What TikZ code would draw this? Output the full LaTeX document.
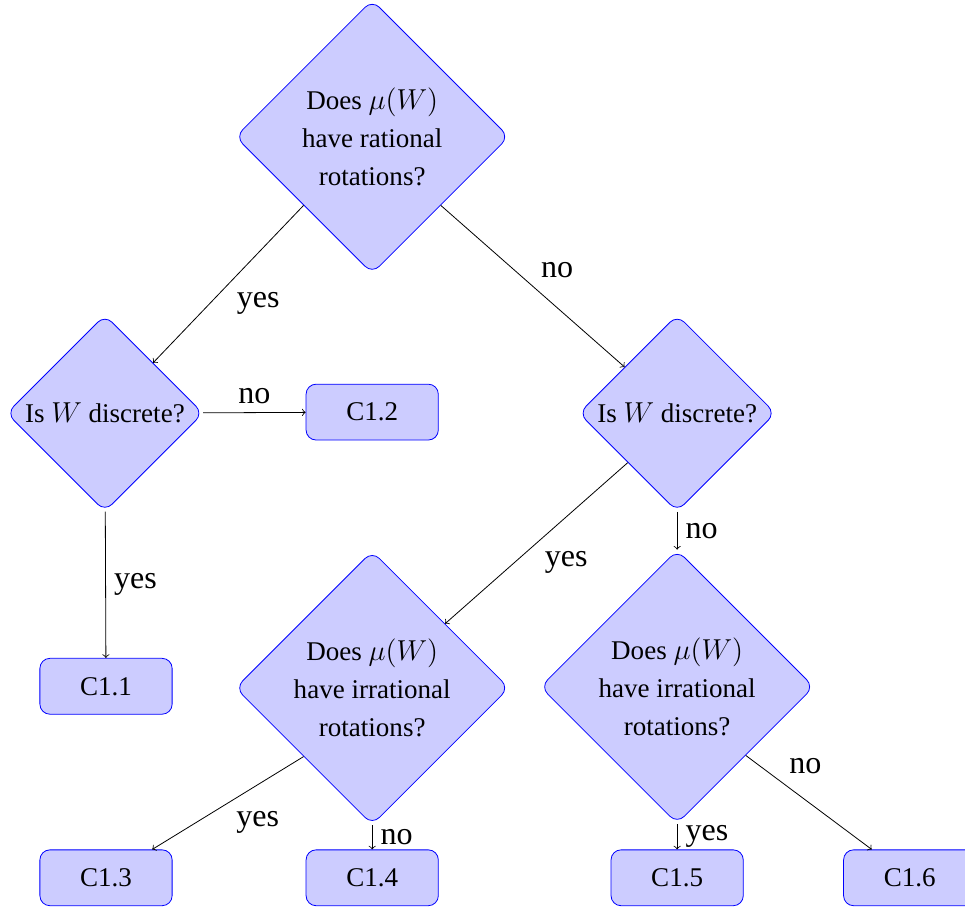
\documentclass[tikz,border=0pt,12pt]{standalone}
\usepackage{fontspec}
\setmainfont{Liberation Serif}
\usetikzlibrary{shapes,arrows,calc}
\tikzset{
    decision/.style = {draw=blue, fill=blue!20, diamond, rounded corners=5pt,
        align=center, inner sep=0pt, minimum size=4.8cm,
        font=\fontsize{13.5}{16}\selectfont},
    smalldecision/.style = {decision, minimum size=3.45cm},
    block/.style = {draw=blue, fill=blue!20, rectangle, rounded corners=5pt,
        minimum height=0.98cm, minimum width=2.32cm,
        font=\fontsize{13.5}{16}\selectfont},
    arrow/.style = {draw, ->},
    lab/.style = {font=\fontsize{16}{19}\selectfont}
}
\begin{document}
\begin{tikzpicture}
            \useasboundingbox (0,0) rectangle (16.93,-16.14);
            % first question
            \node[decision] (rat) at (6.53,-2.40) {Does $\mu(W)$\\[3pt] have rational\\[3pt] rotations?};
            \node[smalldecision] (discL) at (1.84,-7.25) {Is $W$ discrete?};
            \node[smalldecision] (discR) at (11.88,-7.25) {Is $W$ discrete?};
            \node[block] (c12) at (6.53,-7.23) {C1.2};
            \node[block] (c11) at (1.86,-12.04) {C1.1};
            % irrational rotations
            \node[decision] (irrL) at (6.53,-12.07) {Does $\mu(W)$\\[3pt] have irrational\\[3pt] rotations?};
            \node[decision] (irrR) at (11.88,-12.05) {Does $\mu(W)$\\[3pt] have irrational\\[3pt] rotations?};
            \node[block] (c13) at (1.86,-15.40) {C1.3};
            \node[block] (c14) at (6.53,-15.40) {C1.4};
            \node[block] (c15) at (11.88,-15.40) {C1.5};
            \node[block] (c16) at (15.96,-15.40) {C1.6};
            % edges
            \draw [arrow] (rat.south west) -- node[lab,below right] {yes} (discL);
            \draw [arrow] (rat.south east) -- node[lab,above right] {no} (discR);
            \draw [arrow] (discL) -- node[lab,above] {no} (c12);
            \draw [arrow] (discL) -- node[lab,right] {yes} (c11);
            \draw [arrow] (discR.south west) -- node[lab,below right] {yes} (irrL);
            \draw [arrow] (discR) -- node[lab,right] {no} (irrR);
            \draw [arrow] (irrL.south west) -- node[lab,below right] {yes} (c13);
            \draw [arrow] (irrL) -- node[lab,right] {no} (c14);
            \draw [arrow] (irrR) -- node[lab,right] {yes} (c15);
            \draw [arrow] (irrR.south east) -- node[lab,above right,pos=.28] {no} (c16);
        \end{tikzpicture}
\end{document}
